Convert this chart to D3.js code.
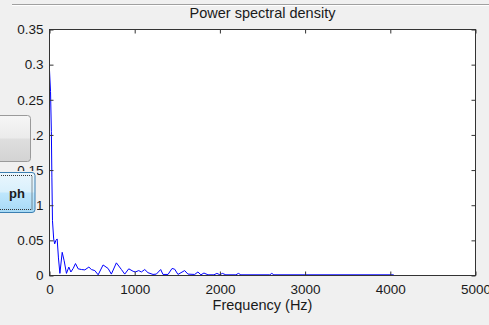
<!DOCTYPE html>
<html>
<head>
<meta charset="utf-8">
<script src="https://cdn.jsdelivr.net/npm/d3@7"></script>
<style>
  html, body { margin: 0; padding: 0; background: #f0f0f0; overflow: hidden; }
  svg { display: block; }
  text { font-family: "Liberation Sans", Arial, sans-serif; fill: #1a1a1a; }
</style>
</head>
<body>
<svg id="chart" width="489" height="325"></svg>
<script>
// ── data ────────────────────────────────────────────────────────────────────
const freqHz = [0, 12, 22, 28, 35, 49, 61, 75, 90, 105, 122, 149, 172, 199, 227, 251, 278, 305,
  336, 375, 415, 462, 492, 532, 571, 629, 688, 726, 785, 844, 883, 930, 981, 1008, 1047, 1078,
  1118, 1156, 1215, 1254, 1305, 1332, 1391, 1438, 1469, 1508, 1586, 1625, 1704, 1742, 1777,
  1813, 1860, 1930, 1965, 2000, 2029, 2070, 2188, 2217, 2246, 2586, 2609, 2633, 4040];
const psd = [0.292, 0.262, 0.205, 0.14, 0.078, 0.052, 0.045, 0.05, 0.052, 0.025, 0.003, 0.033,
  0.021, 0.003, 0.012, 0.005, 0.010, 0.017, 0.0095, 0.0085, 0.008, 0.012, 0.0085, 0.007, 0.001,
  0.015, 0.010, 0.002, 0.018, 0.0085, 0.002, 0.0095, 0.006, 0.005, 0.007, 0.005, 0.0085, 0.004,
  0.0015, 0.002, 0.0085, 0.0015, 0.0015, 0.010, 0.009, 0.0015, 0.007, 0.002, 0.0015, 0.005,
  0.001, 0.0035, 0.001, 0.001, 0.003, 0.001, 0.003, 0.001, 0.001, 0.003, 0.001, 0.001, 0.003,
  0.001, 0.001];
const xTicks = [0, 1000, 2000, 3000, 4000, 5000];
const yTicks = [0, 0.05, 0.1, 0.15, 0.2, 0.25, 0.3, 0.35];
const yTickLabels = ['0', '0.05', '0.1', '0.15', '0.2', '0.25', '0.3', '0.35'];

// ── layout ──────────────────────────────────────────────────────────────────
const box = { left: 49.5, top: 29.5, right: 475.5, bottom: 275.5 };
const svg = d3.select('#chart');

// thin panel edge along the top
svg.append('line').attr('x1', 12).attr('x2', 489).attr('y1', 4.5).attr('y2', 4.5)
  .attr('stroke', '#a0a0a0');
svg.append('line').attr('x1', 12).attr('x2', 489).attr('y1', 5.5).attr('y2', 5.5)
  .attr('stroke', '#ffffff');

const x = d3.scaleLinear().domain([0, 5000]).range([box.left, box.right]);
const y = d3.scaleLinear().domain([0, 0.35]).range([box.bottom, box.top]);

svg.append('rect')
  .attr('x', box.left).attr('y', box.top)
  .attr('width', box.right - box.left).attr('height', box.bottom - box.top)
  .attr('fill', '#ffffff');

// ── line ────────────────────────────────────────────────────────────────────
const pts = freqHz.map((f, i) => [f, psd[i]]);
svg.append('path').datum(pts)
  .attr('fill', 'none').attr('stroke', '#0000ff').attr('stroke-width', 1)
  .attr('stroke-linejoin', 'round')
  .attr('d', d3.line().x(d => x(d[0])).y(d => y(d[1])));

// ── axes (MATLAB style: ticks inside, all four sides) ─────────────────────
function styleAxis(g) {
  g.select('.domain').remove();
  g.selectAll('.tick line').attr('stroke', '#333');
}
const gx = svg.append('g').attr('transform', `translate(0,${box.bottom})`)
  .call(d3.axisBottom(x).tickValues(xTicks).tickSize(-4).tickFormat(d3.format('d')))
  .call(styleAxis);
gx.selectAll('text').attr('dy', null).attr('y', 18).attr('font-size', '13.5px')
  .attr('font-family', '"Liberation Sans", Arial, sans-serif').attr('fill', '#1a1a1a');

svg.append('g').attr('transform', `translate(0,${box.top})`)
  .call(d3.axisTop(x).tickValues(xTicks).tickSize(-4).tickFormat(''))
  .call(styleAxis);

const gy = svg.append('g').attr('transform', `translate(${box.left},0)`)
  .call(d3.axisLeft(y).tickValues(yTicks).tickSize(-4).tickPadding(6)
    .tickFormat((d, i) => yTickLabels[i]))
  .call(styleAxis);
gy.selectAll('text').attr('font-size', '13.5px')
  .attr('font-family', '"Liberation Sans", Arial, sans-serif').attr('fill', '#1a1a1a');

svg.append('g').attr('transform', `translate(${box.right},0)`)
  .call(d3.axisRight(y).tickValues(yTicks).tickSize(-4).tickFormat(''))
  .call(styleAxis);

svg.append('rect')
  .attr('x', box.left).attr('y', box.top)
  .attr('width', box.right - box.left).attr('height', box.bottom - box.top)
  .attr('fill', 'none').attr('stroke', '#333');

// ── titles ──────────────────────────────────────────────────────────────────
svg.append('text').attr('x', (box.left + box.right) / 2).attr('y', 17.5)
  .attr('text-anchor', 'middle').attr('font-size', '14.5px').text('Power spectral density');
svg.append('text').attr('x', (box.left + box.right) / 2).attr('y', 310)
  .attr('text-anchor', 'middle').attr('font-size', '14.5px').text('Frequency (Hz)');

// ── GUI buttons overlapping the y labels ───────────────────────────────────
const defs = svg.append('defs');
const gGray = defs.append('linearGradient').attr('id', 'btnGray').attr('x1', 0).attr('x2', 0).attr('y1', 0).attr('y2', 1);
gGray.append('stop').attr('offset', '0%').attr('stop-color', '#f6f6f6');
gGray.append('stop').attr('offset', '48%').attr('stop-color', '#ebebeb');
gGray.append('stop').attr('offset', '52%').attr('stop-color', '#dedede');
gGray.append('stop').attr('offset', '100%').attr('stop-color', '#d3d3d3');
const gBlue = defs.append('linearGradient').attr('id', 'btnBlue').attr('x1', 0).attr('x2', 0).attr('y1', 0).attr('y2', 1);
gBlue.append('stop').attr('offset', '0%').attr('stop-color', '#eaf6fd');
gBlue.append('stop').attr('offset', '48%').attr('stop-color', '#d9f0fc');
gBlue.append('stop').attr('offset', '52%').attr('stop-color', '#bee6fd');
gBlue.append('stop').attr('offset', '100%').attr('stop-color', '#a7d9f5');

// gray button
svg.append('rect').attr('x', 0).attr('y', 114).attr('width', 33).attr('height', 50).attr('fill', '#f0f0f0');
svg.append('rect').attr('x', -6).attr('y', 115.5).attr('width', 36.5).attr('height', 46)
  .attr('rx', 3).attr('fill', 'url(#btnGray)').attr('stroke', '#9a9a9a');

// blue (focused) button
svg.append('rect').attr('x', 0).attr('y', 171).attr('width', 37).attr('height', 45).attr('fill', '#f0f0f0');
svg.append('rect').attr('x', -6).attr('y', 172.5).attr('width', 41).attr('height', 40)
  .attr('rx', 3).attr('fill', 'url(#btnBlue)').attr('stroke', '#3c7fb1');
svg.append('rect').attr('x', -3).attr('y', 175.5).attr('width', 35).attr('height', 34)
  .attr('fill', 'none').attr('stroke', '#333').attr('stroke-dasharray', '1,1');
svg.append('text').attr('x', 9).attr('y', 198).attr('font-size', '13px')
  .attr('font-weight', 'bold').text('ph');
</script>
</body>
</html>
